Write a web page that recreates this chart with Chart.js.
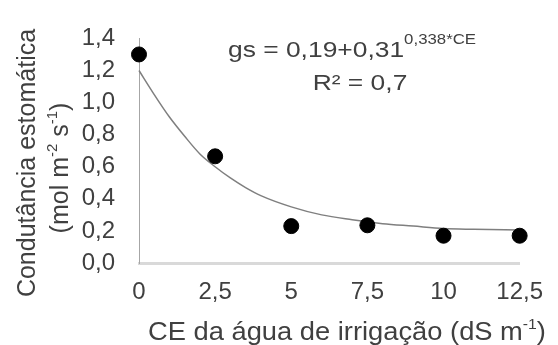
<!DOCTYPE html>
<html>
<head>
<meta charset="utf-8">
<script src="https://cdn.jsdelivr.net/npm/chart.js@4.4.1/dist/chart.umd.min.js"></script>
<style>
  html, body { margin: 0; background: #fff; }
  canvas { display: block; }
</style>
</head>
<body>
<canvas id="grafico" width="558" height="345"></canvas>
<script>
// valores
const ceValores = [0, 2.5, 5, 7.5, 10, 12.5];
const gsObservado = [1.30, 0.665, 0.23, 0.235, 0.17, 0.17];

const ceCurva = [0, 0.5, 1, 1.5, 2, 2.5, 3, 3.5, 4, 5, 6, 7, 8, 9, 10, 11, 12.5];
const gsCurva = [1.20, 1.05, 0.91, 0.79, 0.68, 0.60, 0.53, 0.47, 0.42, 0.35, 0.30, 0.27, 0.245, 0.23, 0.215, 0.21, 0.205];

const xTicks = [0, 2.5, 5, 7.5, 10, 12.5];
const xTickLabels = ['0', '2,5', '5', '7,5', '10', '12,5'];
const yTicks = [0, 0.2, 0.4, 0.6, 0.8, 1.0, 1.2, 1.4];
const yTickLabels = ['0,0', '0,2', '0,4', '0,6', '0,8', '1,0', '1,2', '1,4'];

const FONTE = '"Liberation Sans", Arial, sans-serif';
const COR_TEXTO = '#404040';

// desenha texto com partes sobrescritas, centrado em cx, na linha de base by
function textoRico(ctx, partes, cx, by, tam, esc) {
  let total = 0;
  partes.forEach(p => {
    ctx.font = (p.sup ? p.tam || tam * 0.6 : tam) + 'px ' + FONTE;
    p.w = ctx.measureText(p.t).width;
    total += p.w;
  });
  ctx.save();
  ctx.translate(cx, by);
  ctx.scale(esc, 1);
  ctx.textAlign = 'left';
  ctx.textBaseline = 'alphabetic';
  let x = -total / 2;
  partes.forEach(p => {
    ctx.font = (p.sup ? p.tam || tam * 0.6 : tam) + 'px ' + FONTE;
    ctx.fillText(p.t, x, p.sup ? -(p.dy || tam * 0.45) : 0);
    x += p.w;
  });
  ctx.restore();
}

const textos = {
  id: 'textos',
  afterDraw(chart) {
    const ctx = chart.ctx;
    ctx.save();
    ctx.fillStyle = COR_TEXTO;

    // equação e R²
    textoRico(ctx, [{ t: 'gs = 0,19+0,31' }, { t: '0,338*CE', sup: true, tam: 14, dy: 13 }], 352, 57, 22, 1.2);
    textoRico(ctx, [{ t: 'R² = 0,7' }], 360, 90, 22, 1.2);

    // título do eixo x
    textoRico(ctx, [{ t: 'CE da água de irrigação (dS m' }, { t: '-1', sup: true, tam: 15, dy: 11 }, { t: ')' }], 347, 340, 26, 1.05);

    // título do eixo y (duas linhas, rodado)
    ctx.save();
    ctx.translate(35, 163);
    ctx.rotate(-Math.PI / 2);
    textoRico(ctx, [{ t: 'Condutância estomática' }], 0, 0, 25, 1);
    ctx.restore();

    ctx.save();
    ctx.translate(68, 168);
    ctx.rotate(-Math.PI / 2);
    textoRico(ctx, [
      { t: '(mol m' }, { t: '-2', sup: true, tam: 15, dy: 11 },
      { t: ' s' }, { t: '-1', sup: true, tam: 15, dy: 11 }, { t: ')' }
    ], 0, 0, 25, 1);
    ctx.restore();

    ctx.restore();
  }
};

new Chart(document.getElementById('grafico'), {
  type: 'scatter',
  data: {
    datasets: [
      {
        label: 'observado',
        data: ceValores.map((x, i) => ({ x: x, y: gsObservado[i] })),
        backgroundColor: '#000',
        borderColor: '#000',
        pointRadius: 7.5,
        pointHoverRadius: 7.5,
        clip: false
      },
      {
        label: 'ajuste',
        type: 'line',
        data: ceCurva.map((x, i) => ({ x: x, y: gsCurva[i] })),
        borderColor: '#7f7f7f',
        borderWidth: 1.5,
        pointRadius: 0,
        fill: false,
        cubicInterpolationMode: 'monotone',
        clip: false
      }
    ]
  },
  options: {
    responsive: false,
    animation: false,
    devicePixelRatio: 1,
    layout: { padding: { left: 0, right: 33, top: 25, bottom: 0 } },
    plugins: { legend: { display: false }, tooltip: { enabled: false } },
    scales: {
      x: {
        type: 'linear',
        min: 0,
        max: 12.5,
        afterBuildTicks: s => { s.ticks = xTicks.map(v => ({ value: v })); },
        afterFit: s => { s.height = 82; },
        grid: { display: false, drawTicks: false },
        border: { display: true, color: '#d9d9d9', width: 3 },
        ticks: {
          padding: 15,
          color: COR_TEXTO,
          font: { family: FONTE, size: 24 },
          maxRotation: 0,
          autoSkip: false,
          callback: (v, i) => xTickLabels[i]
        }
      },
      y: {
        type: 'linear',
        min: 0,
        max: 1.4,
        afterBuildTicks: s => { s.ticks = yTicks.map(v => ({ value: v })); },
        afterFit: s => { s.width = 139; },
        grid: { display: false, drawTicks: false },
        border: { display: true, color: '#a6a6a6', width: 1 },
        ticks: {
          padding: 24,
          color: COR_TEXTO,
          font: { family: FONTE, size: 24 },
          autoSkip: false,
          callback: (v, i) => yTickLabels[i]
        }
      }
    }
  },
  plugins: [textos]
});
</script>
</body>
</html>
